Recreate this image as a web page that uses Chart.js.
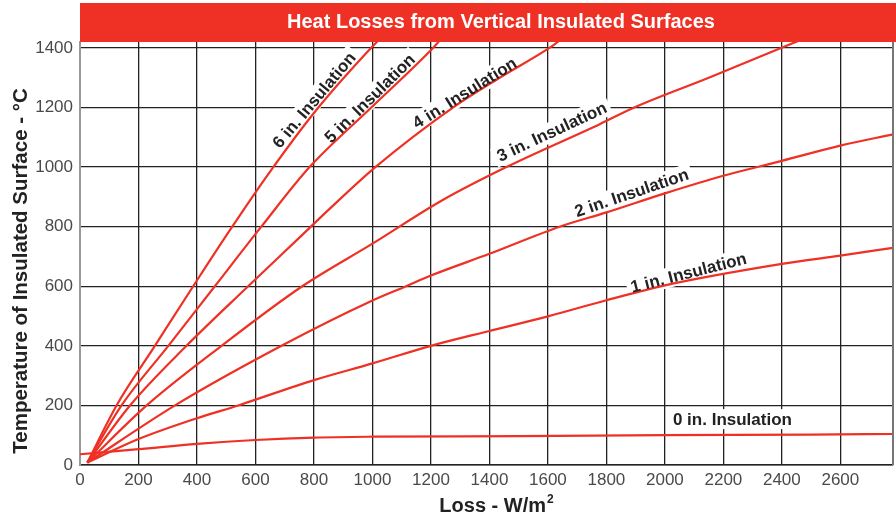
<!DOCTYPE html>
<html>
<head>
<meta charset="utf-8">
<script src="https://cdn.jsdelivr.net/npm/chart.js@4.4.1/dist/chart.umd.min.js"></script>
<style>
  html, body { margin: 0; padding: 0; background: #fff; }
  #wrap { width: 896px; height: 518px; }
</style>
</head>
<body>
<div id="wrap"><canvas id="chart" width="896" height="518"></canvas></div>
<script>
'use strict';

// ─── Data ─────────────────────────────────────────────────────────────────────

const TITLE = 'Heat Losses from Vertical Insulated Surfaces';
const X_TITLE = 'Loss - W/m';
const Y_TITLE = 'Temperature of Insulated Surface - °C';

const xTicks = [0, 200, 400, 600, 800, 1000, 1200, 1400, 1600, 1800, 2000, 2200, 2400, 2600];
const yTicks = [0, 200, 400, 600, 800, 1000, 1200, 1400];

const seriesNames = ['0 in. Insulation', '1 in. Insulation', '2 in. Insulation', '3 in. Insulation',
                     '4 in. Insulation', '5 in. Insulation', '6 in. Insulation'];

// loss (W/m²) vs surface temperature (°C)
const loss0 = [0, 200, 400, 600, 800, 1000, 1500, 2000, 2500, 2780];
const temp0 = [36, 53, 71, 84, 92, 95, 97, 100, 102, 104];

const loss1 = [25, 200, 400, 541, 800, 1000, 1200, 1400, 1600, 1800, 2000, 2400, 2600, 2780];
const temp1 = [8, 87, 157, 200, 285, 341, 400, 450, 499, 553, 603, 675, 703, 729];

const loss2 = [25, 325, 689, 1000, 1115, 1200, 1400, 1640, 1800, 2000, 2200, 2400, 2600, 2780];
const temp2 = [8, 200, 400, 552, 600, 636, 709, 800, 848, 912, 971, 1021, 1072, 1110];

const loss3 = [25, 228, 484, 760, 1000, 1236, 1458, 1777, 1895, 2150, 2397, 2460];
const temp3 = [8, 200, 400, 600, 743, 887, 1000, 1144, 1200, 1300, 1400, 1425];

const loss4 = [25, 171, 364, 575, 752, 847, 1010, 1275, 1435, 1605, 1640];
const temp4 = [8, 200, 400, 600, 765, 854, 1000, 1200, 1300, 1400, 1425];

const loss5 = [25, 142, 302, 461, 620, 785, 996, 1207, 1230];
const temp5 = [8, 200, 400, 600, 800, 1000, 1200, 1400, 1425];

const loss6 = [25, 125, 256, 387, 500, 650, 815, 995, 1020];
const temp6 = [8, 200, 400, 600, 770, 985, 1200, 1400, 1425];

const allLoss = [loss0, loss1, loss2, loss3, loss4, loss5, loss6];
const allTemp = [temp0, temp1, temp2, temp3, temp4, temp5, temp6];

// curve label anchors in data units, with rotation in degrees
const labelLoss  = [2231, 2081, 1886, 1613, 1315, 991, 800];
const labelTemp  = [154, 646, 914, 1119, 1249, 1231, 1225];
const labelAngle = [0, -14.3, -18.7, -25, -32, -44.5, -50];

// ─── Styles ───────────────────────────────────────────────────────────────────

const RED = '#ee3124';
const INK = '#222222';
const TICK = '#4a4a4a';
const FONT = "'Liberation Sans', Arial, Helvetica, sans-serif";

Chart.defaults.font.family = FONT;

const decorPlugin = {
    id: 'decor',
    beforeDatasetsDraw(chart) {
        // white boxes behind the curve labels, hiding the grid
        const { ctx, scales: { x, y } } = chart;
        ctx.save();
        ctx.font = 'bold 17px ' + FONT;
        seriesNames.forEach((name, i) => {
            const w = ctx.measureText(name).width;
            ctx.save();
            ctx.translate(x.getPixelForValue(labelLoss[i]), y.getPixelForValue(labelTemp[i]));
            ctx.rotate(labelAngle[i] * Math.PI / 180);
            ctx.fillStyle = '#fff';
            ctx.fillRect(-w / 2 - 4, -10, w + 8, 20);
            ctx.restore();
        });
        ctx.restore();
    },
    afterDatasetsDraw(chart) {
        const { ctx, chartArea: a, scales: { x, y } } = chart;
        ctx.save();
        ctx.font = 'bold 17px ' + FONT;
        ctx.fillStyle = INK;
        ctx.textAlign = 'center';
        ctx.textBaseline = 'middle';
        seriesNames.forEach((name, i) => {
            ctx.save();
            ctx.translate(x.getPixelForValue(labelLoss[i]), y.getPixelForValue(labelTemp[i]));
            ctx.rotate(labelAngle[i] * Math.PI / 180);
            ctx.fillText(name, 0, 1);
            ctx.restore();
        });
        // right frame
        ctx.strokeStyle = '#777';
        ctx.lineWidth = 2;
        ctx.beginPath();
        ctx.moveTo(a.right, a.top);
        ctx.lineTo(a.right, a.bottom);
        ctx.stroke();
        ctx.restore();
    },
    afterDraw(chart) {
        const { ctx, chartArea: a } = chart;
        ctx.save();
        // title banner
        ctx.fillStyle = RED;
        ctx.fillRect(a.left, 3, chart.width - a.left, a.top - 3);
        ctx.fillStyle = '#fff';
        ctx.font = 'bold 20px ' + FONT;
        ctx.textAlign = 'center';
        ctx.textBaseline = 'middle';
        ctx.fillText(TITLE, 501, 22);

        // x axis title with superscript
        ctx.fillStyle = INK;
        ctx.font = 'bold 20px ' + FONT;
        ctx.textAlign = 'left';
        ctx.textBaseline = 'alphabetic';
        const w = ctx.measureText(X_TITLE).width;
        ctx.font = 'bold 12px ' + FONT;
        const w2 = ctx.measureText('2').width;
        const x0 = 496 - (w + w2) / 2;
        ctx.font = 'bold 20px ' + FONT;
        ctx.fillText(X_TITLE, x0, 512);
        ctx.font = 'bold 12px ' + FONT;
        ctx.fillText('2', x0 + w + 1, 503);

        // y axis title
        ctx.font = 'bold 20.5px ' + FONT;
        ctx.textAlign = 'center';
        ctx.textBaseline = 'middle';
        ctx.translate(21, 271);
        ctx.rotate(-Math.PI / 2);
        ctx.fillText(Y_TITLE, 0, 0);
        ctx.restore();
    }
};

const datasets = seriesNames.map((name, i) => ({
    label: name,
    data: allLoss[i].map((v, j) => ({ x: v, y: allTemp[i][j] })),
    borderColor: RED,
    borderWidth: 2.2,
    pointRadius: 0,
    showLine: true,
    fill: false,
    cubicInterpolationMode: 'monotone',
    clip: 0,
}));

new Chart(document.getElementById('chart'), {
    type: 'scatter',
    data: { datasets },
    options: {
        responsive: false,
        animation: false,
        layout: { padding: { top: 42, right: 3, left: 0, bottom: 0 } },
        plugins: {
            legend: { display: false },
            tooltip: { enabled: false },
            title: { display: false },
        },
        scales: {
            x: {
                type: 'linear', min: 0, max: 2780,
                afterBuildTicks: s => { s.ticks = xTicks.map(v => ({ value: v })); },
                afterFit: s => { s.height = 53; s.paddingRight = 0; },
                grid: { color: INK, lineWidth: 1.3, drawTicks: false },
                border: { color: INK, width: 1.5 },
                ticks: { padding: 5, color: TICK, font: { size: 17 }, maxRotation: 0, autoSkip: false,
                         callback: v => String(v) },
            },
            y: {
                type: 'linear', min: 0, max: 1420,
                afterBuildTicks: s => { s.ticks = yTicks.map(v => ({ value: v })); },
                afterFit: s => { s.width = 80; },
                grid: { color: INK, lineWidth: 1.3, drawTicks: false },
                border: { color: '#999', width: 2 },
                ticks: { padding: 7, color: TICK, font: { size: 17 }, autoSkip: false,
                         callback: v => String(v) },
            },
        },
    },
    plugins: [decorPlugin],
});
</script>
</body>
</html>
